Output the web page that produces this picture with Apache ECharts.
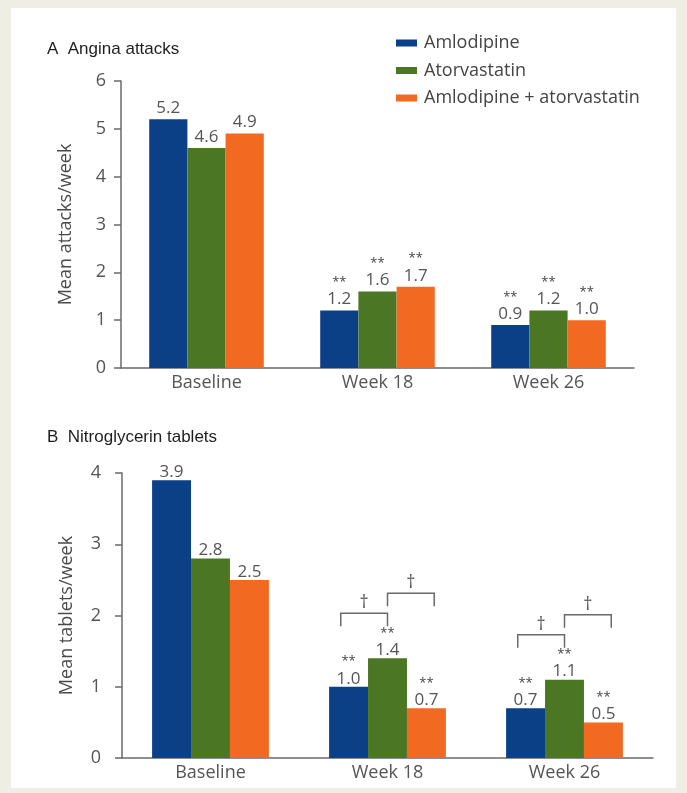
<!DOCTYPE html>
<html>
<head>
<meta charset="utf-8">
<script src="https://cdn.jsdelivr.net/npm/echarts@6/dist/echarts.min.js"></script>
<style>
  html, body { margin: 0; padding: 0; background: #efeee5; }
  #panel { position: absolute; left: 11px; top: 8px; width: 665px; height: 780px; background: #ffffff; }
  #chart { position: absolute; left: 0; top: 0; width: 687px; height: 793px; }
</style>
</head>
<body>
<div id="panel"></div>
<div id="chart"></div>
<script>
// ---- data ----
const categories = ['Baseline', 'Week 18', 'Week 26'];
const seriesNames = ['Amlodipine', 'Atorvastatin', 'Amlodipine + atorvastatin'];

// Panel A: angina attacks (mean attacks/week)
const anginaAmlodipine   = [5.2, 1.2, 0.9];
const anginaAtorvastatin = [4.6, 1.6, 1.2];
const anginaCombination  = [4.9, 1.7, 1.0];

// Panel B: nitroglycerin tablets (mean tablets/week)
const nitroAmlodipine   = [3.9, 1.0, 0.7];
const nitroAtorvastatin = [2.8, 1.4, 1.1];
const nitroCombination  = [2.5, 0.7, 0.5];

// significance marks over each category (vs baseline)
const sigMarks = ['', '**', '**'];

// between-group comparisons in panel B: [category, fromSeries, toSeries, level]
const nitroBrackets = [[1, 0, 1, 0], [1, 1, 2, 1], [2, 0, 1, 0], [2, 1, 2, 1]];
const bracketMark = '\u2020';

const yTicksA = { min: 0, max: 6, interval: 1 };
const yTicksB = { min: 0, max: 4, interval: 1 };

// ---- styling ----
const colors = ['#0b3f86', '#4b7724', '#f26a21'];
const FONT = 'Open Sans';
const labelColor = '#555';
const axisColor = '#6a6a6a';

const anginaSeries = [anginaAmlodipine, anginaAtorvastatin, anginaCombination];
const nitroSeries = [nitroAmlodipine, nitroAtorvastatin, nitroCombination];

function makeLabel(distance) {
  return {
    show: true,
    position: 'top',
    distance: distance,
    formatter: function (p) {
      const v = '{v|' + Number(p.value).toFixed(1) + '}';
      const s = sigMarks[p.dataIndex];
      return s ? '{s|' + s + '}\n' + v : v;
    },
    rich: {
      v: { fontFamily: FONT, fontSize: 17, color: labelColor, lineHeight: 20 },
      s: { fontFamily: FONT, fontSize: 13, color: '#444', lineHeight: 14 }
    }
  };
}

function barSeries(values, i, gridIdx) {
  return {
    name: seriesNames[i],
    type: 'bar',
    xAxisIndex: gridIdx,
    yAxisIndex: gridIdx,
    data: values,
    barGap: '0%',
    barCategoryGap: gridIdx === 0 ? '33%' : '34%',
    itemStyle: { color: colors[i] },
    label: makeLabel(gridIdx === 0 ? 1 : -2),
    animation: false
  };
}

function xAxis(gridIdx) {
  return {
    type: 'category',
    gridIndex: gridIdx,
    data: categories,
    axisLine: { lineStyle: { color: axisColor, width: 1.5 } },
    axisTick: { show: false },
    axisLabel: { fontFamily: FONT, fontSize: 18, color: labelColor, margin: 6 }
  };
}

function yAxis(gridIdx, ticks, name, labelMargin) {
  return {
    type: 'value',
    gridIndex: gridIdx,
    min: ticks.min, max: ticks.max, interval: ticks.interval,
    name: name,
    nameLocation: 'middle',
    nameGap: 46,
    nameTextStyle: { fontFamily: FONT, fontSize: 18, color: '#4a4a4a' },
    axisLine: { show: true, lineStyle: { color: axisColor, width: 1.5 } },
    axisTick: { show: true, length: 7, lineStyle: { color: axisColor, width: 1.5 } },
    splitLine: { show: false },
    axisLabel: { fontFamily: FONT, fontSize: 18, color: labelColor, margin: labelMargin }
  };
}

const chart = echarts.init(document.getElementById('chart'), null, { renderer: 'canvas' });

const option = {
  backgroundColor: 'transparent',
  animation: false,
  title: [
    { text: 'A  Angina attacks', left: 42, top: 36,
      textStyle: { fontFamily: 'Liberation Sans', fontSize: 17, fontWeight: 'normal', color: '#1e1e1e' } },
    { text: 'B  Nitroglycerin tablets', left: 42, top: 424,
      textStyle: { fontFamily: 'Liberation Sans', fontSize: 17, fontWeight: 'normal', color: '#1e1e1e' } }
  ],
  legend: {
    data: seriesNames,
    orient: 'vertical',
    left: 391,
    top: 29,
    itemWidth: 21,
    itemHeight: 7,
    itemGap: 9.5,
    icon: 'rect',
    textStyle: { fontFamily: FONT, fontSize: 18, color: '#444', lineHeight: 18, padding: [0, 0, 0, 2] }
  },
  grid: [
    { left: 121, right: 53, top: 81, bottom: 425 },
    { left: 122, right: 34, top: 473, bottom: 35 }
  ],
  xAxis: [xAxis(0), xAxis(1)],
  yAxis: [
    yAxis(0, yTicksA, 'Mean attacks/week', 15),
    yAxis(1, yTicksB, 'Mean tablets/week', 21)
  ],
  series: [
    ...anginaSeries.map((v, i) => barSeries(v, i, 0)),
    ...nitroSeries.map((v, i) => barSeries(v, i, 1)),
    {
      name: 'comparisons',
      type: 'custom',
      xAxisIndex: 1,
      yAxisIndex: 1,
      clip: false,
      z: 5,
      encode: { x: 0, y: 3 },
      data: nitroBrackets,
      renderItem: function (params, api) {
        const cat = api.value(0), a = api.value(1), b = api.value(2), lvl = api.value(3);
        const catW = api.size([1, 0])[0];
        const bw = catW * 0.22;
        const cx = api.coord([cat, 0])[0];
        const xa = cx + (a - 1) * bw * 1.2;
        const xb = cx + (b - 1) * bw * 1.2;
        const top = Math.max(nitroSeries[a][cat], nitroSeries[b][cat]);
        const y = api.coord([cat, top])[1] - 45 - lvl * 20;
        return {
          type: 'group',
          children: [
            { type: 'polyline',
              shape: { points: [[xa, y + 13], [xa, y], [xb, y], [xb, y + 13]] },
              style: { stroke: axisColor, lineWidth: 1.5, fill: null } },
            { type: 'text',
              style: { text: bracketMark, x: (xa + xb) / 2, y: y - 1,
                       align: 'center', verticalAlign: 'bottom',
                       font: '18px "' + FONT + '"', fill: labelColor } }
          ]
        };
      }
    }
  ]
};

chart.setOption(option);
</script>
</body>
</html>
